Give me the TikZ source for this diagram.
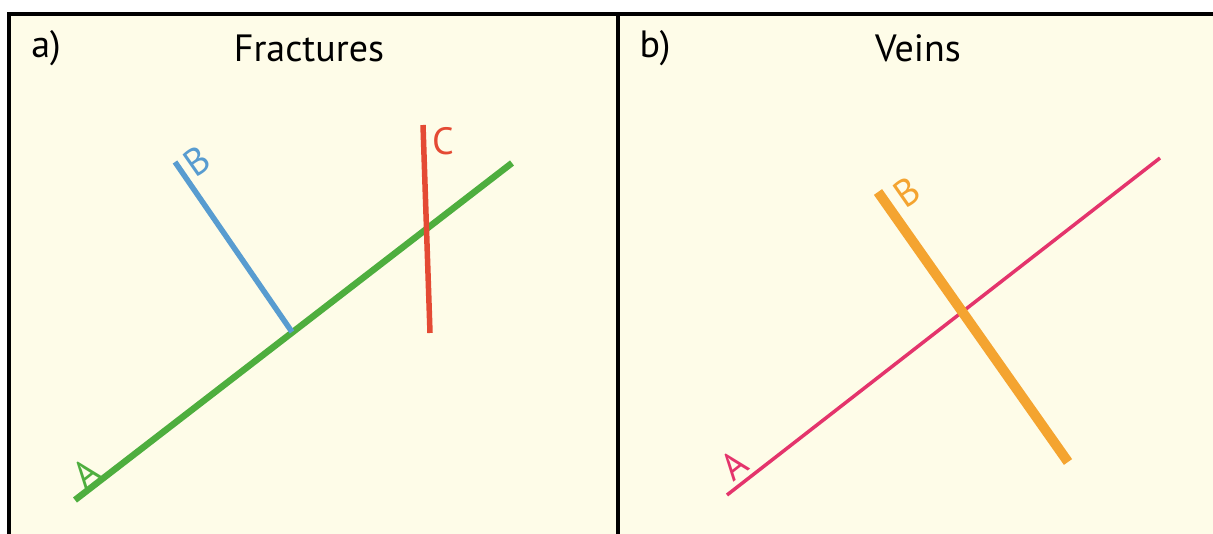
\documentclass[tikz,border=0pt]{standalone}
\usepackage{fontspec}
\setmainfont{PT Sans}
\usepackage{tikz}
\usetikzlibrary{positioning}

\definecolor{paper}{RGB}{254,252,232}
\definecolor{fracA}{RGB}{78,174,62}
\definecolor{fracB}{RGB}{88,156,208}
\definecolor{fracC}{RGB}{228,74,52}
\definecolor{veinA}{RGB}{228,52,108}
\definecolor{veinB}{RGB}{244,164,48}

\begin{document}
\begin{tikzpicture}[x=1pt, y=-1pt,
  lbl/.style={inner sep=0pt, font=\fontsize{38}{38}\selectfont},
  title/.style={inner sep=0pt, font=\fontsize{38}{38}\selectfont}]
\useasboundingbox (0,0) rectangle (1213,534);
\fill[paper] (9,14) rectangle (1213,534);
% frame
\coordinate (TL) at (9,14);
\coordinate (TR) at (1213,14);
\coordinate (BL) at (9,534);
\coordinate (MT) at (618,14);
\coordinate (MB) at (618,534);
\draw[line width=4pt] (BL) -- (TL) -- (TR);
\draw[line width=3.5pt] (MT) -- (MB);
% titles
\node (pa) [title] at (46,48) {a)};
\node (ta) [title] at (309,48) {Fractures};
\node (pb) [title] at (655,48) {b)};
\node (tb) [title] at (918,48) {Veins};
% a) fractures
\coordinate (a1) at (75,500);
\coordinate (a2) at (512,163);
\coordinate (b1) at (175,162);
\coordinate (b2) at (292,332);
\coordinate (c1) at (423,125);
\coordinate (c2) at (430,333);
\draw[fracA, line width=6.5pt] (a1) -- (a2);
\draw[fracB, line width=5.5pt] (b1) -- (b2);
\draw[fracC, line width=5.5pt] (c1) -- (c2);
\node (la) [lbl, text=fracA, rotate=38] at (86,473) {A};
\node (lb) [lbl, text=fracB, rotate=35] at (197,161) {B};
\node (lc) [lbl, text=fracC] at (443,141) {C};
% b) veins
\coordinate (v1) at (727,495);
\coordinate (v2) at (1160,158);
\coordinate (w1) at (878,192);
\coordinate (w2) at (1068,462);
\draw[veinA, line width=3.5pt] (v1) -- (v2);
\draw[veinB, line width=10pt] (w1) -- (w2);
\node (lv) [lbl, text=veinA, rotate=38] at (734,465) {A};
\node (lw) [lbl, text=veinB, rotate=35] at (907,192) {B};
\end{tikzpicture}
\end{document}
